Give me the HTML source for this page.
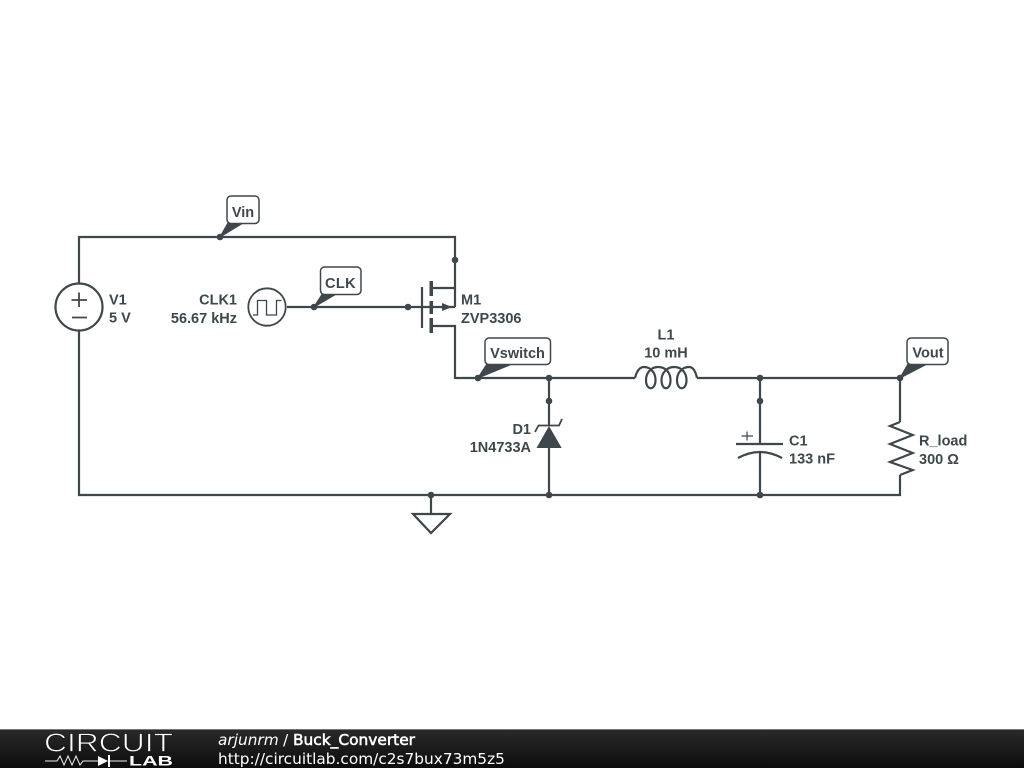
<!DOCTYPE html>
<html><head><meta charset="utf-8"><style>
html,body{margin:0;padding:0;background:#fff;width:1024px;height:768px;overflow:hidden}
svg{display:block;position:absolute;left:0;top:0;filter:blur(.3px)}
.t{font:bold 14.5px "Liberation Sans",sans-serif;fill:#3e474b}
.n{font:bold 14.5px "Liberation Sans",sans-serif;fill:#3e474b;text-anchor:middle}
.w{fill:none;stroke:#3e474b;stroke-width:2.2}
.d{fill:#3e474b}
.f{font-family:"DejaVu Sans",sans-serif;font-size:15.35px;fill:#fff}
</style></head><body>
<svg width="1024" height="768" viewBox="0 0 1024 768" xmlns="http://www.w3.org/2000/svg">
<rect width="1024" height="768" fill="#fff"/>
<g class="w">
<path d="M79 283V237H455V307"/>
<path d="M79 331V495H900V475"/>
<path d="M287 307H455"/>
<path d="M431 288H455M431 326H455V378H635"/>
<path d="M697 378H900V422"/>
<path d="M549 378V426M549 448V495"/>
<path d="M760 378V444M760 452V495"/>
<path d="M431 495V514M413 514H450L431 533Z"/>
<circle cx="79" cy="307" r="23.500"/>
<path d="M71.500 300H87M79 292.500V307M72 317.500H87" stroke-width="1.8"/>
<circle cx="267" cy="307" r="18.700" stroke-width="1.8"/>
<path d="M253 315H257.500V300.500H266.500V315H276.500V300.500H281.500" stroke-width="1.300"/>
<path d="M422 287V328"/>
<path d="M635 378C637 370 640 367 644 367C651 367 655.500 373 655.500 380C655.500 391 646 391 646 380C646 373 651 367 658 367C666 367 670.500 373 670.500 380C670.500 391 661.500 391 661.500 380C661.500 373 667 367 674 367C682 367 686.500 373 686.500 380C686.500 391 677 391 677 380C677 373 682 367 689 367C693 367 695.500 371 697 378"/>
<path d="M900 422L890 426 912.700 435 890 444 912.700 453 890 462 912.700 470 900 475"/>
<path d="M736 444H783"/>
<path d="M738 458Q760 446 782 458"/>
<path d="M741.500 436H753M747 431.500V440.500" stroke-width="1.200"/>
<path d="M535 432L538.500 425.500H559L562 419" stroke-width="1.800"/>
</g>
<rect x="429.500" y="281" width="3.500" height="15" class="d"/>
<rect x="429.500" y="301" width="3.500" height="13" class="d"/>
<rect x="429.500" y="318" width="3.500" height="15" class="d"/>
<path d="M442 303L452 307 442 311Z" class="d"/>
<path d="M549 426L561.700 448H536.500Z" class="d"/>
<g class="d">
<circle cx="220" cy="237" r="3.300"/><circle cx="455" cy="260" r="3.300"/><circle cx="314" cy="307" r="3.300"/><circle cx="408" cy="307" r="3.300"/><circle cx="478" cy="378" r="3.300"/><circle cx="549" cy="378" r="3.300"/><circle cx="549" cy="401" r="3.300"/><circle cx="760" cy="378" r="3.300"/><circle cx="760" cy="401" r="3.300"/><circle cx="900" cy="378" r="3.300"/><circle cx="431" cy="495" r="3.300"/><circle cx="549" cy="495" r="3.300"/><circle cx="760" cy="495" r="3.300"/>
</g>
<g class="d" stroke="#3e474b" stroke-width="1.200">
<path d="M220 237L228 223H243Z"/>
<path d="M314 307L323 293H338Z"/>
<path d="M478 378L487 364H512Z"/>
<path d="M900 378L908 364H927Z"/>
</g>
<g fill="#fff" stroke="#3e474b" stroke-width="1.500">
<rect x="227" y="196" width="32" height="27.500" rx="4"/>
<rect x="320.500" y="267" width="40.500" height="27.500" rx="4"/>
<rect x="485" y="338" width="65.500" height="26.500" rx="4"/>
<rect x="907" y="338" width="41" height="26.500" rx="4"/>
</g>
<text class="n" x="243" y="217">Vin</text>
<text class="n" x="340.500" y="288" style="letter-spacing:.4px">CLK</text>
<text class="n" x="517.500" y="358">Vswitch</text>
<text class="n" x="928" y="357.500">Vout</text>
<text class="t" x="109" y="304.500">V1</text>
<text class="t" x="109" y="322.500">5 V</text>
<text class="t" x="237" y="304.500" text-anchor="end">CLK1</text>
<text class="t" x="237" y="323" text-anchor="end">56.67 kHz</text>
<text class="t" x="461" y="304.500">M1</text>
<text class="t" x="461" y="323">ZVP3306</text>
<text class="n" x="666" y="339.500">L1</text>
<text class="n" x="666" y="357.500">10 mH</text>
<text class="t" x="531" y="434" text-anchor="end">D1</text>
<text class="t" x="531" y="452" text-anchor="end">1N4733A</text>
<text class="t" x="789" y="445.500">C1</text>
<text class="t" x="789" y="463.500">133 nF</text>
<text class="t" x="919" y="445.500">R_load</text>
<text class="t" x="919" y="464">300 Ω</text>
<defs><linearGradient id="b" x1="0" y1="0" x2="0" y2="1"><stop offset="0" stop-color="#2a2a2a"/><stop offset="1" stop-color="#0c0c0c"/></linearGradient></defs>
<rect y="729" width="1024" height="39" fill="url(#b)"/>
<rect y="729" width="1024" height="1" fill="#777"/>
<text x="44" y="751.500" style="font:26px 'Liberation Sans',sans-serif" fill="#fff" stroke="#1c1c1c" stroke-width=".8" textLength="129" lengthAdjust="spacingAndGlyphs">CIRCUIT</text>
<path d="M45 761H57L60 756 64 765 68 756 72 765 76 756 80 765 83 761H98M110 761H127" fill="none" stroke="#eee" stroke-width="1"/>
<path d="M98 756L108 761 98 766Z" fill="#fff"/><rect x="108" y="755" width="2" height="12" fill="#fff"/>
<text x="129" y="765.500" style="font:bold 13.500px 'Liberation Sans',sans-serif" fill="#fff" textLength="44" lengthAdjust="spacingAndGlyphs">LAB</text>
<text class="f" x="218" y="745" font-style="oblique">arjunrm</text>
<text class="f" x="283" y="745">/</text>
<text class="f" x="293" y="745" stroke="#fff" stroke-width=".55" textLength="122" lengthAdjust="spacingAndGlyphs">Buck_Converter</text>
<text class="f" x="218" y="764">http://circuitlab.com/c2s7bux73m5z5</text>
</svg>
</body></html>
